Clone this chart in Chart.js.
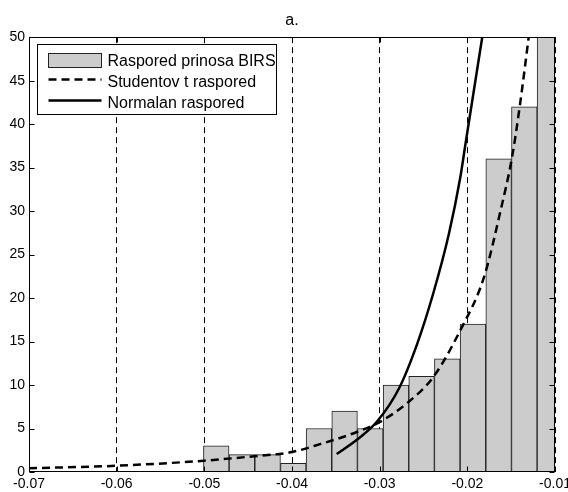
<!DOCTYPE html>
<html>
<head>
<meta charset="utf-8">
<title>a.</title>
<script src="https://cdn.jsdelivr.net/npm/chart.js@4.4.1/dist/chart.umd.min.js"></script>
<style>
  html, body { margin: 0; padding: 0; background: #fff; }
  #wrap { width: 568px; height: 492px; }
</style>
</head>
<body>
<div id="wrap"><canvas id="chart" width="568" height="492"></canvas></div>
<script>
// histogram of returns (bin centres + counts), last bar runs off the top
const binCenters = [-0.04864, -0.04571, -0.04278, -0.03985, -0.03693, -0.03400, -0.03107,
                    -0.02814, -0.02522, -0.02229, -0.01936, -0.01643, -0.01350, -0.01058];
const binCounts = [3, 2, 2, 1, 5, 7, 5, 10, 11, 13, 17, 36, 42, 52];

// Student t fit
const tX = [-0.0700, -0.0600, -0.0500, -0.0450, -0.0400, -0.0368, -0.0326, -0.0299,
            -0.0269, -0.0239, -0.0208, -0.0181, -0.0162, -0.0149, -0.0140, -0.0130];
const tY = [0.43, 0.72, 1.3, 1.75, 2.3, 3.2, 4.6, 5.8, 7.9, 10.9, 16.3, 22.4, 30.1, 36.2, 42.2, 50];

// normal fit
const normX = [-0.0349, -0.0326, -0.0303, -0.0278, -0.0257, -0.0239, -0.0221, -0.0208, -0.0202, -0.0183];
const normY = [2.07, 3.7, 5.8, 9.6, 14.8, 20.5, 27.4, 33.9, 37.8, 50];

const xTicks = [-0.07, -0.06, -0.05, -0.04, -0.03, -0.02, -0.01];
const yTicks = [0, 5, 10, 15, 20, 25, 30, 35, 40, 45, 50];
const legendLabels = ["Raspored prinosa BIRS", "Studentov t raspored", "Normalan raspored"];
const titleText = "a.";

const FONT = "'Liberation Sans', Arial, Helvetica, sans-serif";
Chart.defaults.font.family = FONT;
Chart.defaults.color = "#000";

const toPoints = (xs, ys) => xs.map((v, i) => ({ x: v, y: ys[i] }));

// matlab-style box, inward ticks and the legend inside the axes
const frameAndLegend = {
  id: "frameAndLegend",
  afterDatasetsDraw(chart) {
    const { ctx, chartArea: a, scales: { x, y } } = chart;
    const L = Math.round(a.left) + 0.5, R = Math.round(a.right) - 0.5;
    const T = Math.round(a.top) + 0.5, B = Math.round(a.bottom) - 0.5;
    ctx.save();
    ctx.strokeStyle = "#000";
    ctx.lineWidth = 1;
    ctx.setLineDash([]);
    ctx.strokeRect(L, T, R - L, B - T);
    ctx.beginPath();
    xTicks.forEach(v => {
      const px = Math.round(x.getPixelForValue(v)) + 0.5;
      ctx.moveTo(px, B); ctx.lineTo(px, B - 5);
      ctx.moveTo(px, T); ctx.lineTo(px, T + 5);
    });
    yTicks.forEach(v => {
      const py = Math.round(y.getPixelForValue(v)) + 0.5;
      ctx.moveTo(L, py); ctx.lineTo(L + 5, py);
      ctx.moveTo(R, py); ctx.lineTo(R - 5, py);
    });
    ctx.stroke();
    ctx.restore();
  },
  afterDraw(chart) {
    const { ctx, chartArea: a } = chart;
    const ds = chart.data.datasets;
    const bars = ds.find(d => d.label === legendLabels[0]);
    const x0 = Math.round(a.left) + 8.5, y0 = Math.round(a.top) + 7.5;
    const w = 239, h = 70;
    const rows = [y0 + 16, y0 + 37, y0 + 58];

    ctx.save();
    ctx.fillStyle = "#fff";
    ctx.fillRect(x0, y0, w, h);
    ctx.strokeStyle = "#000";
    ctx.lineWidth = 1;
    ctx.strokeRect(x0, y0, w, h);

    // histogram swatch
    ctx.fillStyle = bars.backgroundColor;
    ctx.fillRect(x0 + 11, rows[0] - 7, 53, 14);
    ctx.strokeStyle = bars.borderColor;
    ctx.strokeRect(x0 + 11, rows[0] - 7, 53, 14);

    // line samples
    [1, 2].forEach(i => {
      const d = ds.find(s => s.label === legendLabels[i]);
      ctx.strokeStyle = d.borderColor;
      ctx.lineWidth = d.borderWidth;
      ctx.setLineDash(d.borderDash || []);
      ctx.beginPath();
      ctx.moveTo(x0 + 11, rows[i] - 2);
      ctx.lineTo(x0 + 64, rows[i] - 2);
      ctx.stroke();
    });
    ctx.setLineDash([]);

    ctx.fillStyle = "#000";
    ctx.font = "16px " + FONT;
    ctx.textBaseline = "middle";
    legendLabels.forEach((t, i) => ctx.fillText(t, x0 + 70, rows[i] + 1));
    ctx.restore();
  }
};

new Chart(document.getElementById("chart"), {
  type: "bar",
  data: {
    datasets: [
      {
        type: "line",
        label: legendLabels[1],
        data: toPoints(tX, tY),
        borderColor: "#000",
        borderWidth: 2.5,
        borderDash: [8, 5],
        pointRadius: 0,
        cubicInterpolationMode: "monotone",
        clip: 0,
        order: 1
      },
      {
        type: "line",
        label: legendLabels[2],
        data: toPoints(normX, normY),
        borderColor: "#000",
        borderWidth: 2.5,
        pointRadius: 0,
        cubicInterpolationMode: "monotone",
        clip: 0,
        order: 1
      },
      {
        type: "bar",
        label: legendLabels[0],
        data: toPoints(binCenters, binCounts),
        backgroundColor: "#cccccc",
        borderColor: "#222",
        borderWidth: 1,
        barPercentage: 1,
        categoryPercentage: 1,
        clip: 0,
        order: 2
      }
    ]
  },
  options: {
    responsive: false,
    animation: false,
    layout: { padding: { top: 0, right: 13, bottom: 0, left: 0 } },
    plugins: {
      legend: { display: false },
      tooltip: { enabled: false },
      title: {
        display: true,
        text: titleText,
        fullSize: false,
        font: { size: 16, weight: "normal" },
        color: "#000",
        padding: { top: 11, bottom: 7 }
      }
    },
    scales: {
      x: {
        type: "linear",
        min: -0.07,
        max: -0.01,
        offset: false,
        afterBuildTicks: s => { s.ticks = xTicks.map(v => ({ value: v })); },
        afterFit: s => { s.height = 20; s.paddingLeft = 0; s.paddingRight = 0; },
        ticks: {
          font: { size: 14 },
          padding: 4,
          maxRotation: 0,
          autoSkip: false,
          callback: v => Number(v).toFixed(2)
        },
        grid: { offset: false, color: "#000", lineWidth: 1, drawTicks: false },
        border: { display: false, dash: [6, 4] }
      },
      y: {
        min: 0,
        max: 50,
        afterBuildTicks: s => { s.ticks = yTicks.map(v => ({ value: v })); },
        afterFit: s => { s.width = 29; },
        ticks: { font: { size: 14 }, padding: 4 },
        grid: { display: false, drawTicks: false },
        border: { display: false }
      }
    }
  },
  plugins: [frameAndLegend]
});
</script>
</body>
</html>
